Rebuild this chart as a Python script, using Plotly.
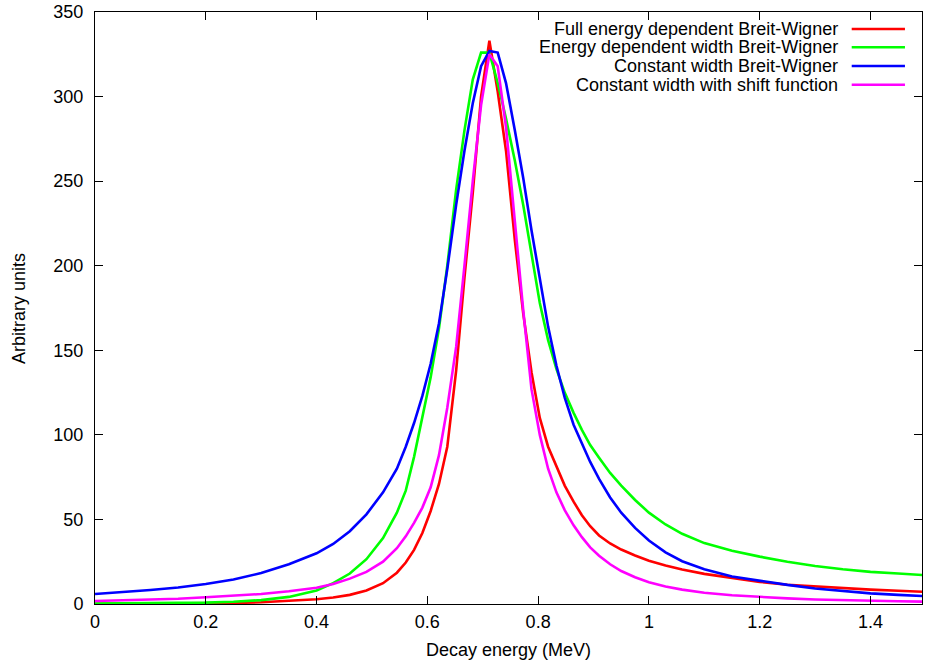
import plotly.graph_objects as go

# Decay energy (MeV)
energy = [0, 0.05, 0.10, 0.15, 0.20, 0.25, 0.30, 0.35, 0.40, 0.43, 0.46, 0.49, 0.52, 0.545,
          0.561, 0.576, 0.591, 0.606, 0.621, 0.636, 0.652, 0.667, 0.682, 0.697, 0.712, 0.727,
          0.742, 0.758, 0.773, 0.788, 0.803, 0.818, 0.833, 0.848, 0.864, 0.879, 0.894,
          0.91, 0.93, 0.95, 0.975, 1.0, 1.03, 1.06, 1.1, 1.15, 1.2, 1.25, 1.3, 1.35, 1.4, 1.45, 1.5]

full_bw = [0.1, 0.15, 0.2, 0.3, 0.4, 0.6, 1.0, 1.7, 2.8, 3.8, 5.4, 8, 12.3, 18.5,
           24.5, 32, 42, 55, 71, 93, 138, 193, 243, 300, 333, 303,
           268, 215, 172, 137, 110, 93, 81, 70, 60.5, 52.5, 46,
           40.5, 35.8, 32.2, 28.7, 25.6, 22.8, 20.4, 17.8, 15.3, 13.1, 11.4, 10.3, 9.3, 8.5, 7.8, 7.2]

energy_width_bw = [0.3, 0.4, 0.5, 0.6, 0.8, 1.3, 2.3, 4.2, 8, 12.3, 18, 26.5, 39, 54,
                   67, 87, 110, 134, 163, 200, 245, 280, 310, 326, 326, 308,
                   287, 262, 236, 207, 178, 156, 139, 125, 113, 103, 94,
                   86.5, 77.5, 70, 61.5, 54, 47, 41.5, 36, 31.5, 28, 25, 22.5, 20.5, 19, 18, 17]

const_width_bw = [5.9, 7, 8.3, 9.8, 11.8, 14.5, 18.3, 23.5, 30, 35.5, 43, 53, 66, 80,
                  93, 107, 123, 142, 166, 198, 236, 268, 296, 318, 327, 326,
                  308, 280, 252, 221, 193, 164, 141, 122, 106, 94.5, 84,
                  74, 63, 54, 45, 37.5, 30.5, 25.3, 20.5, 16.3, 13.6, 11.3, 9.2, 7.6, 6.3, 5.4, 4.6]

const_width_shift = [1.8, 2.1, 2.5, 3.1, 4.0, 4.8, 5.9, 7.5, 9.6, 11.8, 15, 19, 25, 33,
                     40, 48, 57, 69, 88, 116, 152, 200, 250, 295, 325, 318,
                     282, 226, 174, 127, 100, 80, 66, 55.5, 46.5, 39.5, 33.5,
                     28.5, 23.5, 19.5, 15.8, 12.9, 10.3, 8.5, 6.7, 5.2, 4.1, 3.3, 2.7, 2.2, 1.9, 1.6, 1.4]

names = ["Full energy dependent Breit-Wigner",
         "Energy dependent width Breit-Wigner",
         "Constant width Breit-Wigner",
         "Constant width with shift function"]
series = [full_bw, energy_width_bw, const_width_bw, const_width_shift]
colors = ["#ff0000", "#00ff00", "#0000ff", "#ff00ff"]

x_ticks = [0, 0.2, 0.4, 0.6, 0.8, 1.0, 1.2, 1.4]
x_tick_text = ["0", "0.2", "0.4", "0.6", "0.8", "1", "1.2", "1.4"]
y_ticks = [0, 50, 100, 150, 200, 250, 300, 350]

FONT = "Liberation Sans, Arial, Helvetica, sans-serif"
FS = 18

fig = go.Figure()
for name, ys, c in zip(names, series, colors):
    fig.add_trace(go.Scatter(x=energy, y=ys, mode="lines", name=name,
                             line=dict(color=c, width=2.6), showlegend=False))

# gnuplot-style legend: right-aligned text with sample line to the right
leg_y = [0.9713, 0.9404, 0.9088, 0.8772]
for name, c, yy in zip(names, colors, leg_y):
    fig.add_annotation(xref="paper", yref="paper", x=0.9008, y=yy, text=name,
                       showarrow=False, xanchor="right", yanchor="middle",
                       font=dict(family=FONT, size=FS, color="#000000"))
    fig.add_shape(type="line", xref="paper", yref="paper", x0=0.915, x1=0.9794,
                  y0=yy, y1=yy, line=dict(color=c, width=2.6))

fig.add_annotation(xref="paper", yref="paper", x=0.5, y=-0.0777,
                   text="Decay energy (MeV)", showarrow=False,
                   xanchor="center", yanchor="middle",
                   font=dict(family=FONT, size=FS, color="#000000"))
fig.add_annotation(xref="paper", yref="paper", x=-0.0919, y=0.5,
                   text="Arbitrary units", showarrow=False, textangle=-90,
                   xanchor="center", yanchor="middle",
                   font=dict(family=FONT, size=FS, color="#000000"))

axis_common = dict(showline=True, linecolor="#000000", linewidth=1,
                   mirror="ticks", ticks="inside", ticklen=8, tickwidth=1,
                   tickcolor="#000000", showgrid=False, zeroline=False,
                   tickfont=dict(family=FONT, size=FS, color="#000000"))

fig.update_layout(
    width=925, height=665,
    margin=dict(l=95, r=3, t=12, b=61),
    paper_bgcolor="#ffffff", plot_bgcolor="#ffffff",
    xaxis=dict(range=[0, 1.493], tickvals=x_ticks, ticktext=x_tick_text,
               ticklabelstandoff=1, **axis_common),
    yaxis=dict(range=[0, 350], tickvals=y_ticks, ticklabelstandoff=7,
               **axis_common),
)

fig.write_html("out.html")
